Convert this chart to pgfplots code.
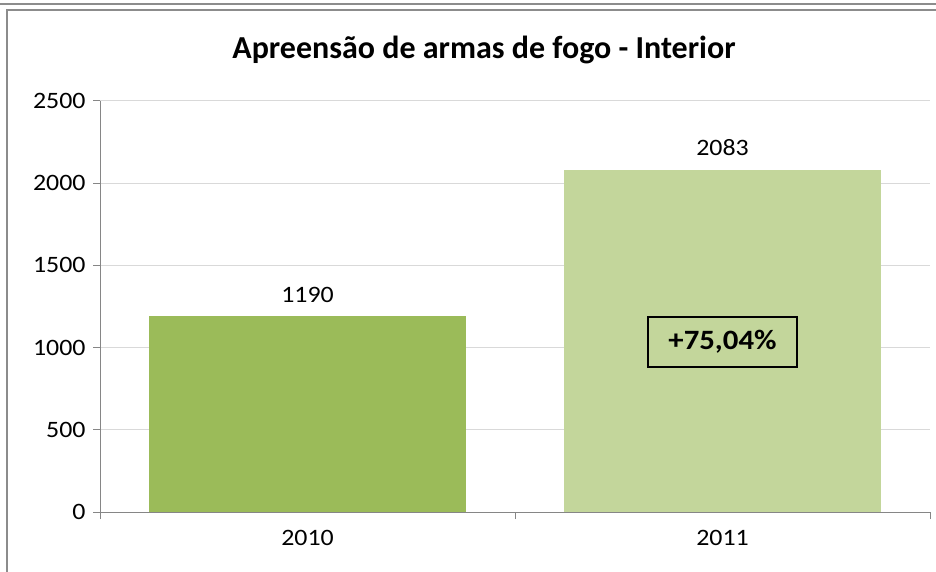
\documentclass[border=0pt]{standalone}
\usepackage{fontspec}
\setmainfont{Carlito}
\newfontfamily\lbl{Carlito}[FakeStretch=1.1]
\usepackage{pgfplots}
\pgfplotsset{compat=1.18}
\definecolor{barA}{HTML}{9BBB59}
\definecolor{barB}{HTML}{C3D69B}
\definecolor{axgray}{HTML}{868686}
\definecolor{gridgray}{HTML}{D9D9D9}
\definecolor{framegray}{HTML}{8C8C8C}
\begin{document}
\begin{tikzpicture}[x=1pt,y=1pt]
\useasboundingbox (0,0) rectangle (936,571);
\clip (0,0) rectangle (936,571);
\path[fill=white] (0,0) rectangle (936,571);
% frames
\draw[framegray, line width=1.5pt] (0,567) -- (936,567);
\draw[framegray, line width=1.5pt] (7,-5) -- (7,561) -- (945,561);
\node[font=\fontsize{32}{38}\selectfont\bfseries] at (484,521) {Apreensão de armas de fogo - Interior};
\begin{axis}[
  at={(100pt,59pt)}, anchor=south west,
  scale only axis, width=830pt, height=411pt,
  xmin=-0.5, xmax=1.5, ymin=0, ymax=2500,
  axis x line=bottom, axis y line=left,
  axis line style={axgray, line width=1pt, -},
  xtick={-0.5,0.5,1.5}, x tick label as interval,
  xticklabels={2010,2011},
  ytick={0,500,1000,1500,2000,2500},
  ymajorgrids, grid style={gridgray, line width=1pt},
  tick align=outside, major tick length=7pt,
  tick style={axgray, line width=1pt},
  tick label style={font=\lbl\fontsize{23.5}{28}\selectfont},
  /pgf/number format/assume math mode=true,
  /pgf/number format/1000 sep={},
  yticklabel style={xshift=-4pt},
  xticklabel style={yshift=-8pt},
  ybar, bar width=317pt,
  nodes near coords,
  every node near coord/.append style={font=\lbl\fontsize{23.5}{28}\selectfont, yshift=10pt},
  clip=false,
]
\addplot[fill=barA, draw=none, bar shift=0pt] coordinates {(0,1190)};
\addplot[fill=barB, draw=none, bar shift=0pt] coordinates {(1,2083)};
\node[draw=black, line width=1.5pt, minimum width=149pt, minimum height=50pt, font=\lbl\fontsize{28}{32}\selectfont\bfseries] at (axis cs:1,1034) {+75,04\%};
\end{axis}
\end{tikzpicture}
\end{document}
